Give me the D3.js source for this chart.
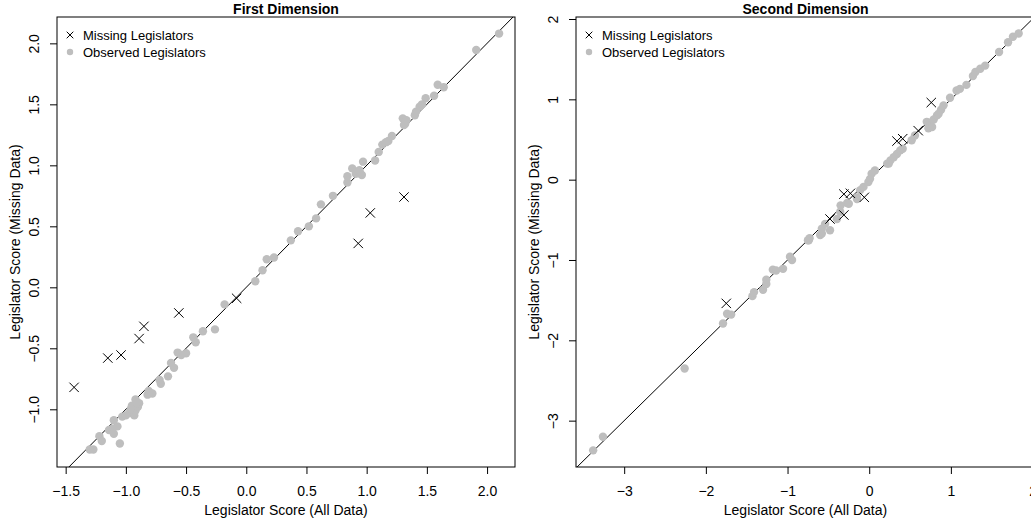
<!DOCTYPE html>
<html>
<head>
<meta charset="utf-8">
<script src="https://cdn.jsdelivr.net/npm/d3@7"></script>
<style>
  body { margin: 0; background: #fff; }
  svg text { font-family: "Liberation Sans", Arial, sans-serif; }
</style>
</head>
<body>
<div id="chart"></div>
<script>
// ---------- data ----------
// First dimension: observed legislators (all data score, missing data score)
var dim1ObsX = [-0.18, -0.36, -0.26, -0.44, -0.42, -0.57, -0.50, -0.54, -0.625, -0.60, -0.65, -0.72, -0.71,
  -0.81, -0.78, -0.82, -0.92, -0.89, -0.94, -0.92, -0.97, -1.00, -0.93, -1.03, -0.95, -0.90, -0.91, -0.96,
  -1.10, -1.07, -1.11, -1.14, -1.10, -1.22, -1.20, -1.05, -1.30, -1.27,
  0.075, 0.135, 0.17, 0.23, 0.37, 0.43, 0.52, 0.58, 0.62, 0.72, 0.84, 0.84, 0.88, 0.91, 0.93, 0.95, 0.94, 0.96,
  0.97, 1.07, 1.10, 1.13, 1.16, 1.18, 1.21, 1.30, 1.32, 1.33, 1.31, 1.40, 1.41, 1.44, 1.46, 1.49, 1.56, 1.59,
  1.64, 1.91, 2.10];
var dim1ObsY = [-0.14, -0.36, -0.345, -0.41, -0.45, -0.535, -0.54, -0.555, -0.62, -0.66, -0.73, -0.76, -0.79,
  -0.85, -0.87, -0.88, -0.92, -0.95, -0.98, -1.01, -1.03, -1.05, -1.05, -1.06, -0.97, -0.98, -0.95, -1.00,
  -1.09, -1.14, -1.16, -1.17, -1.20, -1.22, -1.26, -1.28, -1.33, -1.33,
  0.05, 0.14, 0.23, 0.245, 0.385, 0.46, 0.50, 0.565, 0.68, 0.75, 0.86, 0.91, 0.975, 0.93, 0.95, 0.93, 0.96, 0.92,
  1.03, 1.04, 1.11, 1.17, 1.19, 1.20, 1.24, 1.385, 1.34, 1.37, 1.33, 1.41, 1.44, 1.48, 1.50, 1.55, 1.57, 1.66,
  1.64, 1.945, 2.08];
// First dimension: missing legislators
var dim1MissX = [-1.43, -1.15, -1.04, -0.89, -0.85, -0.56, -0.08, 0.93, 1.03, 1.31];
var dim1MissY = [-0.82, -0.58, -0.555, -0.42, -0.32, -0.21, -0.09, 0.36, 0.61, 0.74];

// Second dimension: observed legislators
var dim2ObsX = [-3.38, -3.26, -2.26, -1.79, -1.74, -1.69, -1.43, -1.41, -1.30, -1.26, -1.26, -1.18, -1.14,
  -1.055, -0.945, -0.97, -0.75, -0.73, -0.74, -0.60, -0.58, -0.58, -0.54, -0.48, -0.395, -0.355, -0.35, -0.27,
  -0.25, -0.15, -0.15, -0.11, -0.07, -0.01, 0.01, 0.03, 0.07, 0.22, 0.24, 0.26, 0.30, 0.34, 0.38, 0.41, 0.52,
  0.56, 0.705, 0.725, 0.75, 0.77, 0.79, 0.83, 0.85, 0.88, 0.91, 0.99, 1.07, 1.11, 1.19, 1.27, 1.30, 1.36, 1.42,
  1.59, 1.70, 1.76, 1.83];
var dim2ObsY = [-3.37, -3.20, -2.35, -1.79, -1.67, -1.68, -1.45, -1.40, -1.37, -1.30, -1.245, -1.12, -1.13,
  -1.11, -1.00, -0.96, -0.755, -0.73, -0.755, -0.69, -0.61, -0.67, -0.55, -0.63, -0.49, -0.40, -0.32, -0.29,
  -0.30, -0.22, -0.24, -0.13, -0.09, -0.03, 0.01, 0.075, 0.115, 0.20, 0.20, 0.24, 0.28, 0.32, 0.365, 0.385, 0.49,
  0.55, 0.72, 0.64, 0.71, 0.655, 0.75, 0.80, 0.82, 0.87, 0.925, 1.02, 1.11, 1.13, 1.18, 1.29, 1.34, 1.38, 1.42,
  1.59, 1.71, 1.78, 1.82];
// Second dimension: missing legislators
var dim2MissX = [0.76, 0.34, 0.41, 0.60, -0.31, -0.23, -0.06, -0.48, -0.31, -1.75];
var dim2MissY = [0.96, 0.48, 0.51, 0.61, -0.18, -0.17, -0.22, -0.49, -0.44, -1.54];

// axis limits and tick labels
var dim1XLim = [-1.572, 2.232], dim1YLim = [-1.473, 2.216];
var dim2XLim = [-3.59, 2.03], dim2YLim = [-3.577, 2.025];
var dim1Ticks = [-1.5, -1.0, -0.5, 0.0, 0.5, 1.0, 1.5, 2.0];
var dim1YTicks = [-1.0, -0.5, 0.0, 0.5, 1.0, 1.5, 2.0];
var dim2Ticks = [-3, -2, -1, 0, 1, 2];
var legendLabels = ["Missing Legislators", "Observed Legislators"];

// ---------- drawing ----------
var W = 1031, H = 522;
var FS = 14;
var svg = d3.select("#chart").append("svg")
  .attr("width", W)
  .attr("height", H);

function fmt(digits) {
  return function(d) {
    return d3.format("." + digits + "f")(d).replace("-", "\u2212");
  };
}

function drawPanel(opt) {
  var x = d3.scaleLinear().domain(opt.xLim).range([opt.left, opt.right]);
  var y = d3.scaleLinear().domain(opt.yLim).range([opt.bottom, opt.top]);
  var g = svg.append("g");

  var clipId = "clip" + opt.id;
  g.append("clipPath").attr("id", clipId)
    .append("rect")
    .attr("x", opt.left).attr("y", opt.top)
    .attr("width", opt.right - opt.left).attr("height", opt.bottom - opt.top);

  var plot = g.append("g").attr("clip-path", "url(#" + clipId + ")");

  // y = x reference line
  var lo = Math.min(opt.xLim[0], opt.yLim[0]), hi = Math.max(opt.xLim[1], opt.yLim[1]);
  plot.append("line")
    .attr("x1", x(lo)).attr("y1", y(lo))
    .attr("x2", x(hi)).attr("y2", y(hi))
    .attr("stroke", "#000").attr("stroke-width", 1);

  // observed points
  plot.selectAll("circle.obs")
    .data(opt.obsX)
    .enter()
    .append("circle")
    .attr("class", "obs")
    .attr("cx", function(d) { return x(d); })
    .attr("cy", function(d, i) { return y(opt.obsY[i]); })
    .attr("r", 4.2)
    .attr("fill", "#bebebe");

  // missing points (x marks)
  var s = 4.7;
  plot.selectAll("path.miss")
    .data(opt.missX)
    .enter()
    .append("path")
    .attr("class", "miss")
    .attr("d", function(d, i) {
      var cx = x(d), cy = y(opt.missY[i]);
      return "M" + (cx - s) + "," + (cy - s) + "L" + (cx + s) + "," + (cy + s) +
             "M" + (cx - s) + "," + (cy + s) + "L" + (cx + s) + "," + (cy - s);
    })
    .attr("stroke", "#000").attr("stroke-width", 1).attr("fill", "none");

  // axes
  var xAxis = d3.axisBottom(x).tickValues(opt.xTicks).tickFormat(opt.xFmt)
    .tickSizeInner(7).tickSizeOuter(0).tickPadding(12);
  var gx = g.append("g")
    .attr("transform", "translate(0," + opt.bottom + ")")
    .call(xAxis);
  gx.select(".domain").remove();
  gx.selectAll("text").attr("font-size", FS).attr("fill", "#000")
    .style("font-family", "Liberation Sans, Arial, sans-serif");

  var yAxis = d3.axisLeft(y).tickValues(opt.yTicks).tickFormat(opt.yFmt)
    .tickSizeInner(7).tickSizeOuter(0);
  var gy = g.append("g")
    .attr("transform", "translate(" + opt.left + ",0)")
    .call(yAxis);
  gy.select(".domain").remove();
  gy.selectAll("text")
    .attr("font-size", FS).attr("fill", "#000")
    .style("font-family", "Liberation Sans, Arial, sans-serif")
    .attr("x", null)
    .attr("text-anchor", "middle")
    .attr("transform", "translate(-23,0) rotate(-90)")
    .attr("y", 0).attr("dy", "0.35em");

  // box
  g.append("rect")
    .attr("x", opt.left).attr("y", opt.top)
    .attr("width", opt.right - opt.left).attr("height", opt.bottom - opt.top)
    .attr("fill", "none").attr("stroke", "#000").attr("stroke-width", 1);

  // title and axis labels
  g.append("text")
    .attr("x", (opt.left + opt.right) / 2).attr("y", 14)
    .attr("text-anchor", "middle").attr("font-size", FS).attr("font-weight", "bold")
    .text(opt.title);
  g.append("text")
    .attr("x", (opt.left + opt.right) / 2).attr("y", 515)
    .attr("text-anchor", "middle").attr("font-size", FS)
    .text("Legislator Score (All Data)");
  g.append("text")
    .attr("transform", "translate(" + (opt.left - 37) + "," + ((opt.top + opt.bottom) / 2) + ") rotate(-90)")
    .attr("text-anchor", "middle").attr("font-size", FS)
    .text("Legislator Score (Missing Data)");

  // legend
  var lx = opt.left + 13, ly = 35;
  var ls = 3.3;
  g.append("path")
    .attr("d", "M" + (lx - ls) + "," + (ly - ls) + "L" + (lx + ls) + "," + (ly + ls) +
               "M" + (lx - ls) + "," + (ly + ls) + "L" + (lx + ls) + "," + (ly - ls))
    .attr("stroke", "#000").attr("stroke-width", 1);
  g.append("circle").attr("cx", lx).attr("cy", ly + 17).attr("r", 3.2).attr("fill", "#bebebe");
  g.selectAll("text.leg")
    .data(legendLabels)
    .enter()
    .append("text")
    .attr("class", "leg")
    .attr("x", lx + 13)
    .attr("y", function(d, i) { return ly + i * 17; })
    .attr("dy", "0.35em")
    .attr("font-size", 13)
    .text(function(d) { return d; });
}

drawPanel({
  id: 1, title: "First Dimension",
  left: 57, right: 515, top: 17, bottom: 467,
  xLim: dim1XLim, yLim: dim1YLim,
  xTicks: dim1Ticks, yTicks: dim1YTicks, xFmt: fmt(1), yFmt: fmt(1),
  obsX: dim1ObsX, obsY: dim1ObsY, missX: dim1MissX, missY: dim1MissY
});

drawPanel({
  id: 2, title: "Second Dimension",
  left: 576, right: 1035, top: 17, bottom: 467,
  xLim: dim2XLim, yLim: dim2YLim,
  xTicks: dim2Ticks, yTicks: dim2Ticks, xFmt: fmt(0), yFmt: fmt(0),
  obsX: dim2ObsX, obsY: dim2ObsY, missX: dim2MissX, missY: dim2MissY
});
</script>
</body>
</html>
